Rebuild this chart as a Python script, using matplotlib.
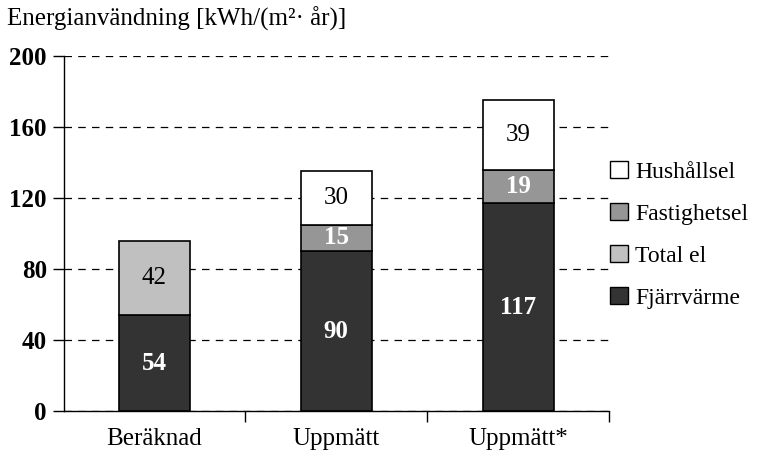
import numpy as np
import matplotlib.pyplot as plt
from matplotlib.patches import Patch

categories = ["Beräknad", "Uppmätt", "Uppmätt*"]
fjarrvarme = [54, 90, 117]
total_el = [42, 0, 0]
fastighetsel = [0, 15, 19]
hushallsel = [0, 30, 39]
yticks = [0, 40, 80, 120, 160, 200]

plt.rcParams['font.family'] = ['Liberation Serif', 'DejaVu Serif']

fig = plt.figure(figsize=(7.57, 4.67), dpi=100)
ax = fig.add_axes([0.0839, 0.12, 0.7206, 0.76])

x = np.arange(len(categories))
w = 0.39
series = [
    ("Fjärrvärme", fjarrvarme, "#333333", "white", "bold"),
    ("Total el", total_el, "#c0c0c0", "black", "normal"),
    ("Fastighetsel", fastighetsel, "#969696", "white", "bold"),
    ("Hushållsel", hushallsel, "white", "black", "normal"),
]
bottom = np.zeros(len(categories))
for name, vals, col, tcol, fw in series:
    vals = np.array(vals, dtype=float)
    mask = vals > 0
    ax.bar(x[mask], vals[mask], w, bottom=bottom[mask], color=col,
           edgecolor="black", linewidth=1.2, zorder=3)
    for xi, b, v in zip(x[mask], bottom[mask], vals[mask]):
        ax.text(xi, b + v / 2, f"{int(v)}", ha="center", va="center",
                color=tcol, fontsize=18, fontweight=fw, zorder=4)
    bottom += vals

ax.set_xlim(-0.5, 2.5)
ax.set_ylim(0, 200)
ax.set_yticks(yticks)
ax.set_yticklabels([str(t) for t in yticks], fontsize=18, fontweight="bold")
ax.set_xticks([0.5, 1.5, 2.5])
ax.set_xticklabels([])
ax.set_xticks(x, minor=True)
ax.set_xticklabels(categories, minor=True, fontsize=18)
ax.tick_params(axis="x", which="minor", length=0, pad=12)
ax.tick_params(axis="x", which="major", direction="out", length=8, width=1)
ax.tick_params(axis="y", direction="out", length=8, width=1, pad=4)
ax.yaxis.grid(True, linestyle=(0, (6, 5)), color="black", linewidth=0.9, zorder=0)
for s in ["top", "right"]:
    ax.spines[s].set_visible(False)
ax.spines["left"].set_linewidth(1)
ax.spines["bottom"].set_linewidth(1)

fig.text(0.009, 0.96, "Energianvändning [kWh/(m²· år)]", fontsize=18,
         ha="left", va="center")

handles = [Patch(facecolor=c, edgecolor="black", label=n)
           for n, _, c, _, _ in reversed(series)]
fig.legend(handles=handles, loc="center left", bbox_to_anchor=(0.806, 0.497),
           frameon=False, fontsize=17, handlelength=0.75, handleheight=0.75,
           handletextpad=0.3, labelspacing=0.85, borderpad=0, borderaxespad=0)

fig.savefig("out.png", dpi=100)
